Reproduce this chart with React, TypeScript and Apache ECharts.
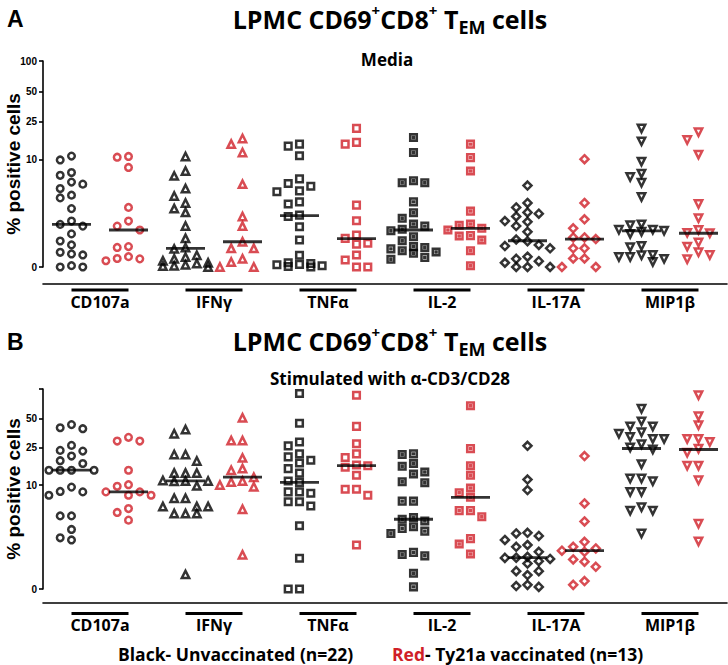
import React, { useEffect, useRef } from "react";
import * as echarts from "echarts";

const cytokines = ["CD107a", "IFNγ", "TNFα", "IL-2", "IL-17A", "MIP1β"];
const yTickValues = [0, 10, 25, 50, 100];
const mediaLabelValues = [0, 10, 25, 50, 100];
const stimLabelValues = [0, 10, 25, 50];

// ---- Media (panel A) ----
const mediaCD107aUnvac = [11, 10, 7.3, 6.8, 5.7, 5.4, 4.8, 4.0, 3.7, 2.7, 1.8, 1.6, 1.5, 1.1, 0.79, 0.64, 0.39, 0.34, 0.31, 0.03, 0, 0];
const mediaIFNgUnvac = [10.9, 7.6, 6.7, 4.8, 3.9, 3.2, 2.7, 2.4, 1.5, 0.9, 0.55, 0.5, 0.3, 0.25, 0.2, 0.15, 0.1, 0.08, 0.05, 0.03, 0.02, 0];
const mediaTNFaUnvac = [14.7, 14, 11.1, 6.2, 5.5, 5.1, 4.5, 4.4, 3.3, 3.1, 2.2, 2.1, 1.46, 0.83, 0.3, 0.1, 0.08, 0.06, 0.05, 0.03, 0.01, 0];
const mediaIL2Unvac = [17.2, 12, 5.9, 5.6, 5.6, 3.3, 2.37, 1.98, 1.62, 1.5, 1.33, 1.25, 0.97, 0.8, 0.58, 0.55, 0.5, 0.44, 0.4, 0.36, 0.24, 0.19];
const mediaIL17AUnvac = [5.2, 3.2, 2.8, 2.4, 2.3, 2.1, 1.8, 1.75, 1.5, 1.2, 0.85, 0.78, 0.64, 0.6, 0.52, 0.26, 0.2, 0.14, 0.1, 0, 0, 0];
const mediaMIP1bUnvac = [21.3, 15.7, 9.6, 7.1, 6.5, 5.6, 3.8, 1.6, 1.55, 1.3, 1.3, 1.25, 1.2, 1.1, 0.6, 0.56, 0.31, 0.3, 0.25, 0.25, 0.2, 0.12];

const mediaCD107aVac = [10.9, 10.7, 8.3, 2.8, 1.8, 1.5, 1.29, 0.58, 0.55, 0.26, 0.21, 0.2, 0.15];
const mediaIFNgVac = [16.8, 14.7, 12.0, 5.4, 2.1, 1.5, 0.76, 0.52, 0.52, 0.2, 0.12, 0, 0];
const mediaTNFaVac = [21.3, 15.3, 14.7, 3.0, 1.82, 1.05, 0.9, 0.7, 0.67, 0.31, 0.17, 0, 0];
const mediaIL2Vac = [14.7, 10.6, 7.6, 2.5, 1.62, 1.55, 1.38, 1.29, 1.02, 1.0, 0.83, 0.44, 0.03];
const mediaIL17AVac = [10.2, 3.2, 1.91, 1.38, 0.94, 0.94, 0.87, 0.52, 0.52, 0.21, 0.21, 0, 0];
const mediaMIP1bVac = [19.5, 16.2, 11.4, 3.1, 1.98, 1.29, 1.15, 1.13, 0.73, 0.58, 0.39, 0.31, 0.19];

const mediaMedianUnvac = [1.6, 0.52, 2.16, 1.29, 0.8, 1.25];
const mediaMedianVac = [1.29, 0.76, 0.89, 1.38, 0.87, 1.13];

// ---- Stimulated with anti-CD3/CD28 (panel B) ----
const stimCD107aUnvac = [43.4, 40.3, 39.4, 26.5, 23.5, 23.1, 20.5, 18.3, 17.1, 14.5, 14.5, 14.5, 14.5, 9.5, 8.5, 8.4, 7.7, 4.4, 4.4, 2.95, 2.26, 2.1];
const stimIFNgUnvac = [38.6, 35.0, 21.3, 21.3, 18.2, 13.5, 13.5, 13.5, 11.2, 11.1, 11.1, 11.0, 9.8, 7.1, 7.1, 5.7, 5.7, 5.7, 4.7, 4.7, 4.7, 0.4];
const stimTNFaUnvac = [90, 44.9, 28.7, 26.2, 21.6, 20.1, 18.5, 17.3, 15.1, 13.5, 11.1, 10.7, 8.4, 8.4, 8.1, 6.5, 6.5, 5.8, 3.3, 1.03, 0, 0];
const stimIL2Unvac = [21.6, 21.3, 17.1, 16.0, 13.9, 13.2, 10.9, 10.6, 6.6, 6.6, 4.2, 4.0, 3.8, 3.2, 3.05, 2.8, 2.6, 1.33, 1.22, 1.15, 0.44, 0.05];
const stimIL17AUnvac = [26.2, 11.5, 8.8, 2.66, 2.6, 2.4, 2.1, 1.76, 1.65, 1.36, 1.1, 1.06, 1.05, 1.0, 0.9, 0.8, 0.51, 0.51, 0.38, 0.1, 0.07, 0.05];
const stimMIP1bUnvac = [63, 46.9, 41.6, 41.6, 36.2, 35.0, 32.4, 30.9, 30.9, 27.2, 25.2, 24.0, 16.8, 11.8, 11.8, 11.0, 8.4, 8.4, 5.6, 5.1, 5.1, 2.6];

const stimCD107aVac = [32.1, 29.4, 29.4, 14.5, 10.1, 9.7, 8.4, 8.4, 7.7, 7.7, 5.4, 4.85, 3.9];
const stimIFNgVac = [51, 29.7, 29.7, 19.6, 15.1, 14.5, 12.2, 11.1, 10.8, 10.0, 9.6, 5.3, 1.2];
const stimTNFaVac = [86.5, 41.6, 27.6, 21.6, 19.8, 16.5, 16.2, 15.6, 12.8, 9.0, 9.0, 7.7, 1.76];
const stimIL2Vac = [67.6, 24.5, 16.2, 12.8, 9.3, 8.2, 7.3, 5.1, 5.1, 4.3, 2.2, 1.82, 1.24];
const stimIL17AVac = [20.5, 6.2, 3.75, 1.97, 1.65, 1.55, 1.42, 1.36, 0.98, 0.88, 0.67, 0.2, 0.1];
const stimMIP1bVac = [86.5, 52.8, 42.7, 30.9, 30.9, 28.7, 24.5, 22.2, 16.2, 16.2, 11.3, 3.5, 2.0];

const stimMedianUnvac = [14.5, 11.1, 10.7, 4.0, 1.06, 24.6];
const stimMedianVac = [8.4, 12.2, 16.2, 7.3, 1.42, 24];

const mediaUnvac = [mediaCD107aUnvac, mediaIFNgUnvac, mediaTNFaUnvac, mediaIL2Unvac, mediaIL17AUnvac, mediaMIP1bUnvac];
const mediaVac = [mediaCD107aVac, mediaIFNgVac, mediaTNFaVac, mediaIL2Vac, mediaIL17AVac, mediaMIP1bVac];
const stimUnvac = [stimCD107aUnvac, stimIFNgUnvac, stimTNFaUnvac, stimIL2Unvac, stimIL17AUnvac, stimMIP1bUnvac];
const stimVac = [stimCD107aVac, stimIFNgVac, stimTNFaVac, stimIL2Vac, stimIL17AVac, stimMIP1bVac];

const BLACK = "#000000";
const RED = "#d01f28";
const FONT = "'Open Sans', 'DejaVu Sans', sans-serif";
const NUM_FONT = "'Liberation Sans', Arial, sans-serif";

const SYMBOLS = [
  "circle",
  "triangle",
  "rect",
  "path://M0,0L10,0L10,10L0,10Z M4.3,4.3L5.7,4.3L5.7,5.7L4.3,5.7Z",
  "diamond",
  "triangle",
];
const SYMBOL_ROTATE = [0, 0, 0, 0, 0, 180];
const SYMBOL_SIZE = [6.6, 7.4, 6.6, 6.6, 8, 7.4];

const tf = (v: number) => Math.log10(v + 1);
const AXIS_MAX = tf(100);
const PX_PER_X_UNIT = 114;

// simple beeswarm: spread points horizontally when they would overlap
function swarm(vals: number[], center: number, pxPerY: number): number[][] {
  const stepPx = 11.3;
  const minD = 9;
  const cands = [0, -1, 1, -2, 2];
  const placed: { x: number; y: number }[] = [];
  const out: number[][] = new Array(vals.length);
  const order = vals.map((_, i) => i).sort((a, b) => vals[b] - vals[a]);
  for (const i of order) {
    const yp = tf(vals[i]) * pxPerY;
    let best = 0;
    let bestScore = -1;
    for (const c of cands) {
      const xp = c * stepPx;
      let md = Infinity;
      for (const p of placed) md = Math.min(md, Math.hypot(p.x - xp, p.y - yp));
      if (md >= minD) {
        best = c;
        break;
      }
      if (md > bestScore) {
        bestScore = md;
        best = c;
      }
    }
    placed.push({ x: best * stepPx, y: yp });
    out[i] = [center + (best * stepPx) / PX_PER_X_UNIT, tf(vals[i])];
  }
  return out;
}

function panelSeries(g: number, unvac: number[][], vac: number[][], medU: number[], medV: number[], pxPerY: number) {
  const series: any[] = [];
  cytokines.forEach((name, k) => {
    [unvac[k], vac[k]].forEach((vals, gi) => {
      const center = k + 0.5 + (gi === 0 ? -0.25 : 0.25);
      series.push({
        type: "scatter",
        name: name + (gi === 0 ? " unvaccinated" : " vaccinated"),
        xAxisIndex: g * 2,
        yAxisIndex: g,
        data: swarm(vals, center, pxPerY),
        symbol: SYMBOLS[k],
        symbolRotate: SYMBOL_ROTATE[k],
        symbolSize: SYMBOL_SIZE[k],
        itemStyle: { color: "rgba(255,255,255,0)", borderColor: gi === 0 ? BLACK : RED, borderWidth: 2.5 },
        silent: true,
        z: 2,
      });
    });
  });
  [medU, medV].forEach((med, gi) => {
    series.push({
      type: "scatter",
      name: gi === 0 ? "median unvaccinated" : "median vaccinated",
      xAxisIndex: g * 2,
      yAxisIndex: g,
      data: med.map((m, k) => [k + 0.5 + (gi === 0 ? -0.25 : 0.25), tf(m)]),
      symbol: "rect",
      symbolSize: [39, 2.8],
      itemStyle: { color: BLACK },
      silent: true,
      z: 3,
    });
  });
  return series;
}

function yAxis(g: number, labelVals: number[]) {
  return {
    type: "value",
    gridIndex: g,
    min: 0,
    max: AXIS_MAX,
    axisLine: { show: true, onZero: false, lineStyle: { color: BLACK, width: 1.6 } },
    axisTick: { show: true, inside: false, length: 4, customValues: yTickValues.map(tf), lineStyle: { color: BLACK, width: 1.6 } },
    axisLabel: {
      show: true,
      customValues: labelVals.map(tf),
      formatter: (v: number) => String(Math.round(Math.pow(10, v) - 1)),
      fontSize: 10,
      fontWeight: "bold",
      fontFamily: NUM_FONT,
      color: BLACK,
      margin: 6,
    },
    splitLine: { show: false },
    name: "% positive cells",
    nameLocation: "middle",
    nameRotate: 90,
    nameGap: 20,
    nameMoveOverlap: false,
    nameTextStyle: { fontSize: 19, fontWeight: "bold", fontFamily: NUM_FONT, color: BLACK },
  };
}

function xAxes(g: number, offset: number, labelMargin: number) {
  return [
    {
      type: "value",
      gridIndex: g,
      position: "bottom",
      min: 0,
      max: 6,
      offset,
      axisLine: { show: true, onZero: false, lineStyle: { color: BLACK, width: 1.6 } },
      axisTick: { show: false },
      axisLabel: { show: false },
      splitLine: { show: false },
    },
    {
      type: "category",
      gridIndex: g,
      position: "bottom",
      data: cytokines,
      offset,
      axisLine: { show: false },
      axisTick: { show: false },
      splitLine: { show: false },
      axisLabel: {
        show: true,
        interval: 0,
        margin: labelMargin,
        formatter: (v: string) => `{bar| }\n{name|${v}}`,
        rich: {
          bar: { width: 57, height: 3, lineHeight: 3, fontSize: 3, backgroundColor: BLACK },
          name: { fontSize: 16, fontWeight: "bold", fontFamily: FONT, color: BLACK, lineHeight: 20 },
        },
      },
    },
  ];
}

const titleRich = {
  t: { fontSize: 25, fontWeight: "bold", fontFamily: FONT, color: BLACK, lineHeight: 34 },
  sup: { fontSize: 15, fontWeight: "bold", fontFamily: FONT, color: BLACK, lineHeight: 22, verticalAlign: "top" },
  sub: { fontSize: 18, fontWeight: "bold", fontFamily: FONT, color: BLACK, lineHeight: 20, verticalAlign: "bottom" },
};
const titleText = "{t|LPMC CD69}{sup|+}{t|CD8}{sup|+}{t| T}{sub|EM}{t| cells}";
const subStyle = { fontSize: 17, fontWeight: "bold", fontFamily: FONT, color: BLACK };
const legStyle = { fontSize: 17.5, fontWeight: "bold", fontFamily: FONT, color: BLACK };

export default function App() {
  const ref = useRef<HTMLDivElement>(null);
  useEffect(() => {
    document.body.style.margin = "0";
    const chart = echarts.init(ref.current!, undefined, { renderer: "svg" });
    const option: any = {
      animation: false,
      backgroundColor: "#ffffff",
      grid: [
        { left: 43, top: 61, width: 684, height: 206, containLabel: false, outerBoundsMode: "none" },
        { left: 43, top: 389, width: 684, height: 200, containLabel: false, outerBoundsMode: "none" },
      ],
      xAxis: [...xAxes(0, 17, 4.5), ...xAxes(1, 14, 9)],
      yAxis: [yAxis(0, mediaLabelValues), yAxis(1, stimLabelValues)],
      title: [
        { text: "A", left: 2, top: 2, textStyle: { fontSize: 23, fontWeight: "bold", fontFamily: NUM_FONT, color: BLACK } },
        { text: titleText, left: 385, top: -3, textAlign: "center", textStyle: { rich: titleRich } },
        { text: "Media", left: 382, top: 46, textAlign: "center", textStyle: subStyle },
        { text: "B", left: 2, top: 325, textStyle: { fontSize: 23, fontWeight: "bold", fontFamily: NUM_FONT, color: BLACK } },
        { text: titleText, left: 385, top: 319, textAlign: "center", textStyle: { rich: titleRich } },
        { text: "Stimulated with α-CD3/CD28", left: 385, top: 365, textAlign: "center", textStyle: subStyle },
        {
          text: "{b|Black}{n|- Unvaccinated (n=22)}",
          left: 113,
          top: 640,
          textStyle: { rich: { b: legStyle, n: legStyle } },
        },
        {
          text: "{r|Red}{n|- Ty21a vaccinated (n=13)}",
          left: 387,
          top: 640,
          textStyle: { rich: { r: { ...legStyle, color: RED }, n: legStyle } },
        },
      ],
      series: [
        ...panelSeries(0, mediaUnvac, mediaVac, mediaMedianUnvac, mediaMedianVac, 102.8),
        ...panelSeries(1, stimUnvac, stimVac, stimMedianUnvac, stimMedianVac, 99.9),
      ],
    };
    chart.setOption(option);
    return () => chart.dispose();
  }, []);
  return <div ref={ref} style={{ width: 728, height: 665, position: "absolute", left: 0, top: 0 }} />;
}
